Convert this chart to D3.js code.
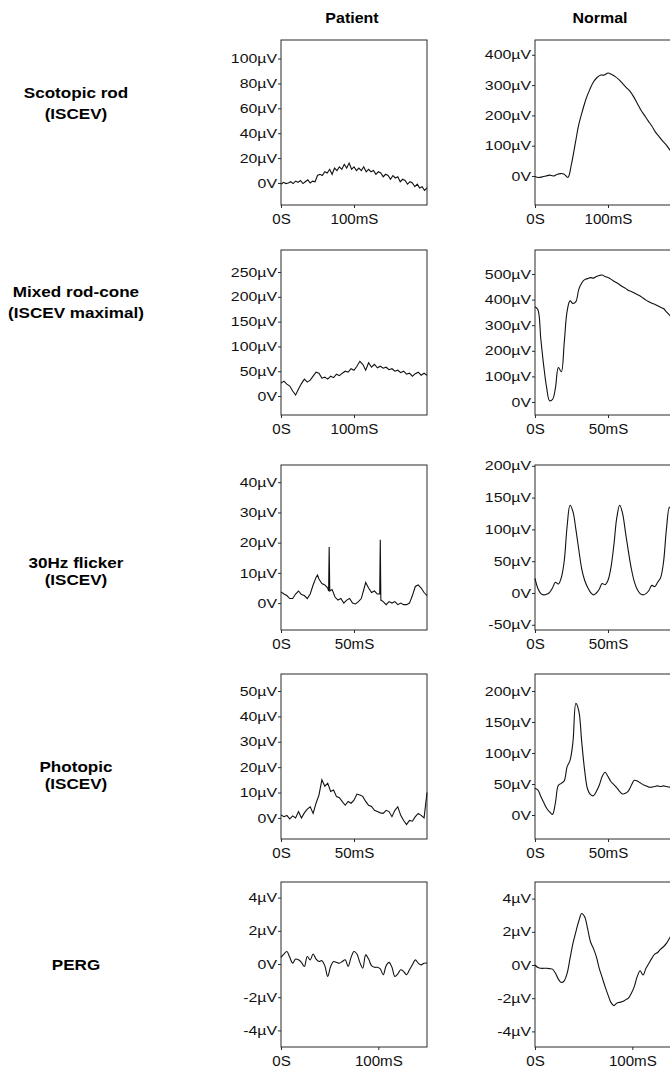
<!DOCTYPE html>
<html>
<head>
<meta charset="utf-8">
<script src="https://cdn.jsdelivr.net/npm/d3@7"></script>
<style>
body { margin: 0; background: #fff; overflow: hidden; }
svg { display: block; font-family: "Liberation Sans", Arial, sans-serif; }
</style>
</head>
<body>
<div id="chart"></div>
<script>
// labels
var colTitles = ["Patient", "Normal"];
var rowLabels = [["Scotopic rod", "(ISCEV)"], ["Mixed rod-cone", "(ISCEV maximal)"],
                 ["30Hz flicker", "(ISCEV)"], ["Photopic", "(ISCEV)"], ["PERG"]];

// axis domains and ticks, per row: [patient, normal]
var xMax = [[200, 200], [200, 100], [100, 100], [100, 100], [150, 150]];
var yDom = [[[-17.7, 114.9], [-95.7, 448.8]],
            [[-38.3, 294.4], [-50.8, 593.8]],
            [[-8.9, 45.7], [-58.2, 201.3]],
            [[-8.3, 56.7], [-38.7, 227.4]],
            [[-5, 4.94], [-4.94, 5]]];
var yTicks = [[[0, 20, 40, 60, 80, 100], [0, 100, 200, 300, 400]],
              [[0, 50, 100, 150, 200, 250], [0, 100, 200, 300, 400, 500]],
              [[0, 10, 20, 30, 40], [-50, 0, 50, 100, 150, 200]],
              [[0, 10, 20, 30, 40, 50], [0, 50, 100, 150, 200]],
              [[-4, -2, 0, 2, 4], [-4, -2, 0, 2, 4]]];
var xTicks = [[[0, 100], [0, 100]], [[0, 100], [0, 50]], [[0, 50], [0, 50]],
              [[0, 50], [0, 50]], [[0, 100], [0, 100]]];

// traces (µV), sampled every dt ms unless times are given
var scotPat = [-1,0.5,-0.5,0,1,-0.5,1.5,0.5,2,-0.5,1,2.5,0,1.5,1,6,7,6,9,8,11,7,12,10,13,11,15,12,16,11,
               13,10,12,10,13,9,11,9,10,7,9,8,5,7,6,3,6,4,5,1,3,2,-1,1,0,-3,-1,-4,-3,-6,-4];
var scotNorm = [-2,-5,-3,0,3,0,5,8,6,-5,40,105,170,215,255,285,310,325,333,333,
                340,335,328,318,305,292,280,262,240,218,200,182,165,145,130,115,102,85,72,60,50];
var maxPat = [26,30,24,20,10,2,14,25,34,28,32,40,48,46,36,38,34,40,37,44,41,46,50,48,55,52,
              60,70,64,52,67,58,64,57,60,56,58,53,55,50,52,47,50,44,46,40,45,48,42,46,42];
var maxNorm = [372,360,245,140,55,5,10,55,135,118,230,355,395,385,392,440,465,478,482,486,
               484,490,494,496,490,486,480,472,466,458,450,444,436,432,426,420,414,406,398,392,
               386,382,376,370,365,352,340,328,318,306,295];
var flickPatT = [0,2,4,6,8,10,12,14,16,18,20,22,24,25,26,28,30,32,32.6,33,33.4,35,37,39,41,43,45,
                 47,49,51,53,55,57,58,60,62,64,66,67.6,68,68.4,70,72,74,76,78,80,82,84,86,88,90,
                 92,94,96,98,100];
var flickPatV = [3.7,3,2.5,1.5,1.5,3,4,2.8,2.5,1.5,3,6,8.5,9.3,8,6.5,6,5,4,18.6,4,4.5,2,1,1.5,0,1,
                 1.5,0,-0.3,0.5,1.5,5,6.8,5,3.5,4,3,3,21,1,0.5,-0.5,0.5,0,0.5,-0.5,0,-0.5,-0.5,0,2.5,
                 5.5,6,5,3.5,2.5];
var flickNorm = [23,7,-1,-3,-2,1,8,17,14,24,50,105,138,128,100,68,38,20,9,1,-3,0,6,15,13,20,40,
                 75,118,138,125,95,65,38,18,6,-1,-3,-1,4,12,10,17,24,48,100,135,120,95,65,38];
var photPat = [1.2,0.5,1,-0.4,0.8,0,2.5,0,2,3.5,4.4,1.8,5.8,9,15,12.5,13.7,10.4,11,8.4,8,6.4,5,
               6.5,5.8,7,9.4,9,8.5,6.5,5,4.5,3,2.5,2,1.8,3,2.5,0.5,3,4.4,1,-1,-2.6,-1,-1.3,0.5,
               1.8,1,0,10];
var photNorm = [43,40,30,20,11,5,1,20,48,51,55,78,88,118,180,168,118,72,42,33,31,38,48,62,69,62,
                54,49,44,38,34,35,39,48,56,55,52,49,47,45,45,46,47,46,47,46,45,46,45,46,46];
var pergPat = [0.4,0.6,0.75,0.4,0.05,0.3,0.25,0.1,-0.15,0.45,0.25,0.6,0.3,0.15,0.2,-0.1,-0.75,
               -0.15,0.15,0.1,0.05,0.15,0.25,-0.15,0.4,0.75,0.6,0.1,-0.25,0.55,0.3,-0.1,-0.2,-0.2,
               -0.3,-0.65,-0.1,0.1,-0.2,-0.75,-0.6,-0.35,-0.45,-0.65,-0.35,-0.05,0.25,0.05,-0.05,
               0.05,0.05];
var pergNorm = [0,-0.15,-0.2,-0.2,-0.2,-0.22,-0.25,-0.5,-0.85,-1.05,-0.95,-0.5,0.4,1.3,2.0,2.65,
                3.1,2.9,2.2,1.4,1.0,0.5,-0.2,-0.75,-1.3,-1.8,-2.25,-2.45,-2.3,-2.25,-2.2,-2.1,-2.0,
                -1.7,-1.3,-0.7,-0.35,-0.6,-0.2,0.1,0.4,0.65,0.75,0.95,1.1,1.3,1.6,1.9,2.2,2.4,2.6];

function even(vals, dt) {
  return vals.map(function(v, i) { return [i * dt, v]; });
}

var traces = [
  [even(scotPat, 200 / 60), even(scotNorm, 5)],
  [even(maxPat, 4), even(maxNorm, 2)],
  [flickPatT.map(function(t, i) { return [t, flickPatV[i]]; }), even(flickNorm, 2)],
  [even(photPat, 2), even(photNorm, 2)],
  [even(pergPat, 3), even(pergNorm, 3)]
];
var smooth = [[false, true], [false, true], [false, true], [false, true], [true, true]];

// layout
var width = 670, height = 1070;
var rowTop = [40, 250, 465, 674, 882];
var colLeft = [281, 535];
var panelW = 146, panelH = 165;

var svg = d3.select("#chart").append("svg")
  .attr("width", width)
  .attr("height", height);

// widen text the way the scanned figure is widened
function stretch(sel, k) {
  sel.each(function() {
    var w = this.getComputedTextLength();
    d3.select(this).attr("textLength", w * k).attr("lengthAdjust", "spacingAndGlyphs");
  });
}

function fmtY(v) { return v === 0 ? "0V" : v + "µV"; }
function fmtX(t) { return t === 0 ? "0S" : t + "mS"; }

// column titles
svg.selectAll(".title")
  .data(colTitles)
  .enter().append("text")
  .attr("class", "title")
  .attr("x", function(d, i) { return i === 0 ? 352 : 600; })
  .attr("y", 23)
  .attr("text-anchor", "middle")
  .attr("font-weight", "bold")
  .attr("font-size", 14)
  .text(function(d) { return d; })
  .call(stretch, 1.14);

// row labels
var labelY = [[98, 119], [297, 318], [568, 585], [772, 789], [970]];
rowLabels.forEach(function(lines, r) {
  svg.selectAll(null)
    .data(lines)
    .enter().append("text")
    .attr("x", 76)
    .attr("y", function(d, i) { return labelY[r][i]; })
    .attr("text-anchor", "middle")
    .attr("font-weight", "bold")
    .attr("font-size", 14)
    .text(function(d) { return d; })
    .call(stretch, 1.22);
});

rowTop.forEach(function(top, r) {
  colLeft.forEach(function(left, c) {
    var g = svg.append("g")
      .attr("transform", "translate(" + left + "," + top + ")");

    var x = d3.scaleLinear().domain([0, xMax[r][c]]).range([0, panelW]);
    var y = d3.scaleLinear().domain(yDom[r][c]).range([panelH, 0]);

    g.append("rect")
      .attr("width", panelW)
      .attr("height", panelH)
      .attr("fill", "none")
      .attr("stroke", "#2a2a2a")
      .attr("stroke-width", 1);

    var ya = g.append("g")
      .call(d3.axisLeft(y).tickValues(yTicks[r][c]).tickFormat(fmtY)
        .tickSize(3).tickPadding(1).tickSizeOuter(0));
    ya.select(".domain").remove();
    ya.attr("font-family", null).attr("font-size", 13);
    ya.selectAll("line").attr("stroke", "#2a2a2a");
    ya.selectAll("text").attr("fill", "#111").call(stretch, 1.22);

    var xa = g.append("g")
      .attr("transform", "translate(0," + panelH + ")")
      .call(d3.axisBottom(x).tickValues(xTicks[r][c]).tickFormat(fmtX)
        .tickSize(3).tickPadding(6).tickSizeOuter(0));
    xa.select(".domain").remove();
    xa.attr("font-family", null).attr("font-size", 14);
    xa.selectAll("line").attr("stroke", "#2a2a2a");
    xa.selectAll("text").attr("fill", "#111").call(stretch, 1.08);

    var line = d3.line()
      .x(function(d) { return x(d[0]); })
      .y(function(d) { return y(d[1]); })
      .curve(smooth[r][c] ? d3.curveCatmullRom : d3.curveLinear);

    g.append("path")
      .datum(traces[r][c])
      .attr("fill", "none")
      .attr("stroke", "#111")
      .attr("stroke-width", 1.1)
      .attr("d", line);
  });
});
</script>
</body>
</html>
